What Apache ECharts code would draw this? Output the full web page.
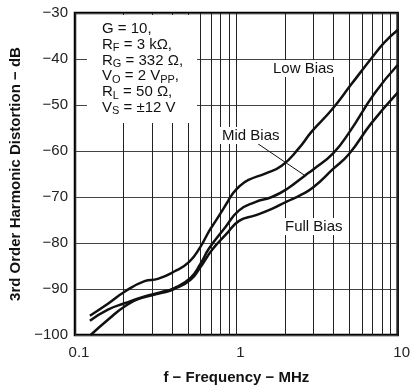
<!DOCTYPE html>
<html>
<head>
<meta charset="utf-8">
<script src="https://cdn.jsdelivr.net/npm/echarts@6/dist/echarts.min.js"></script>
<style>
html,body{margin:0;padding:0;background:#fff;}
#chart{width:413px;height:390px;}
</style>
</head>
<body>
<div id="chart"></div>
<script>
// ---- Data ----
const lowFreq  = [0.1237, 0.16, 0.203, 0.27, 0.326, 0.412, 0.51, 0.6, 0.678, 0.745, 0.878, 0.94, 1.05, 1.19, 1.51, 1.91, 2.43, 2.93, 3.89, 5.16, 6.86, 8.28, 10];
const lowDb    = [-95.8, -93.2, -90.6, -88.3, -87.8, -86.2, -84.1, -80.8, -77.4, -75.2, -71.2, -69.5, -67.6, -66.3, -64.9, -63.2, -59.5, -55.8, -51.1, -45.5, -39.9, -36.4, -33.7];
const midFreq  = [0.1237, 0.16, 0.203, 0.27, 0.341, 0.412, 0.52, 0.6, 0.677, 0.857, 1.04, 1.31, 1.66, 2.05, 2.67, 3.0, 3.98, 5.0, 7.18, 10];
const midDb    = [-96.9, -94.5, -93.1, -91.6, -90.7, -89.8, -87.6, -84.5, -81.2, -76.5, -72.9, -71.1, -70.0, -68.3, -65.3, -64.0, -60.5, -56.0, -47.5, -41.3];
const fullFreq = [0.125, 0.16, 0.203, 0.257, 0.341, 0.412, 0.52, 0.6, 0.71, 0.86, 1.04, 1.31, 1.66, 2.05, 2.5, 3.0, 3.98, 4.98, 6.86, 10];
const fullDb   = [-100, -96.7, -93.8, -92.0, -90.9, -90.0, -88.0, -85.2, -81.4, -78.2, -75.2, -74.0, -72.6, -71.0, -69.6, -67.9, -63.9, -60.7, -54.0, -47.3];
const minorGridFreqs = [0.2,0.3,0.4,0.5,0.6,0.7,0.8,0.9,2,3,4,5,6,7,8,9];
const seriesNames = ['Low Bias', 'Mid Bias', 'Full Bias'];
// Leader line for "Mid Bias" label (data coordinates)
const midLeader = [[1.318, -58.1], [2.677, -65.4]];

const zip = (xs, ys) => xs.map((x, i) => [x, ys[i]]);
const FONT = '"Liberation Sans", Arial, Helvetica, sans-serif';

const chart = echarts.init(document.getElementById('chart'), null, {renderer: 'canvas'});

const lineStyle = {color: '#111', width: 2.5};

const option = {
  animation: false,
  backgroundColor: '#fff',
  textStyle: {fontFamily: FONT},
  grid: {left: 75, right: 13, top: 13, bottom: 53, show: true, borderColor: '#000', borderWidth: 2.5, backgroundColor: 'transparent'},
  xAxis: {
    type: 'log', logBase: 10, min: 0.1, max: 10,
    name: 'f − Frequency − MHz', nameLocation: 'middle', nameGap: 35,
    nameTextStyle: {fontFamily: FONT, fontSize: 15, fontWeight: 'bold', color: '#111'},
    axisLine: {show: false},
    axisTick: {show: false},
    axisLabel: {fontFamily: FONT, fontSize: 15, color: '#222', margin: 10, padding: [0,0,0,8],
      formatter: v => String(+(+v).toPrecision(3))},
    splitLine: {show: true, lineStyle: {color: '#222', width: 1}},
    minorTick: {show: false}, minorSplitLine: {show: false}
  },
  yAxis: {
    type: 'value', min: -100, max: -30, interval: 10,
    name: '3rd Order Harmonic Distortion − dB', nameLocation: 'middle', nameGap: 52, nameRotate: 90,
    nameTextStyle: {fontFamily: FONT, fontSize: 15, fontWeight: 'bold', color: '#111'},
    axisLine: {show: false},
    axisTick: {show: false},
    axisLabel: {fontFamily: FONT, fontSize: 15, color: '#222', margin: 7,
      formatter: v => String(v).replace('-', '−')},
    splitLine: {show: true, lineStyle: {color: '#444', width: 1}}
  },
  series: [
    {
      type: 'line', name: 'grid', data: [], silent: true,
      markLine: {
        silent: true, symbol: ['none','none'], animation: false,
        label: {show: false},
        lineStyle: {color: '#222', width: 1, type: 'solid'},
        data: minorGridFreqs.map(f => ({xAxis: f}))
      }
    },
    {type: 'line', name: seriesNames[0], data: zip(lowFreq, lowDb), smooth: 0.5, showSymbol: false, lineStyle: lineStyle, z: 5},
    {type: 'line', name: seriesNames[1], data: zip(midFreq, midDb), smooth: 0.5, showSymbol: false, lineStyle: lineStyle, z: 5,
      markLine: {silent: true, symbol: ['none','none'], label: {show: false},
        lineStyle: {color: '#111', width: 1, type: 'solid'},
        data: [[{coord: midLeader[0]}, {coord: midLeader[1]}]]}
    },
    {type: 'line', name: seriesNames[2], data: zip(fullFreq, fullDb), smooth: 0.5, showSymbol: false, lineStyle: lineStyle, z: 5}
  ],
  graphic: [
    {type: 'rect', z: 100, shape: {x: 87, y: 15, width: 110, height: 108}, style: {fill: '#fff'}},
    {type: 'text', z: 101, left: 102, top: 21,
      style: {
        text: 'G = 10,\nR{s|F} = 3 kΩ,\nR{s|G} = 332 Ω,\nV{s|O} = 2 V{s|PP},\nR{s|L} = 50 Ω,\nV{s|S} = ±12 V',
        font: '15px ' + FONT, fill: '#111', lineHeight: 15.8,
        rich: {s: {fontSize: 11, fontFamily: FONT, lineHeight: 9, padding: [7,0,0,0], fill: '#111'}}
      }},
    {type: 'text', z: 101, left: 271, top: 60,
      style: {text: 'Low Bias', font: '15px ' + FONT, fill: '#111', backgroundColor: '#fff', padding: [1,2,1,2]}},
    {type: 'text', z: 101, left: 220, top: 127,
      style: {text: 'Mid Bias', font: '15px ' + FONT, fill: '#111', backgroundColor: '#fff', padding: [1,2,1,2]}},
    {type: 'text', z: 101, left: 283, top: 218,
      style: {text: 'Full Bias', font: '15px ' + FONT, fill: '#111', backgroundColor: '#fff', padding: [1,2,1,2]}}
  ]
};
chart.setOption(option);
</script>
</body>
</html>
